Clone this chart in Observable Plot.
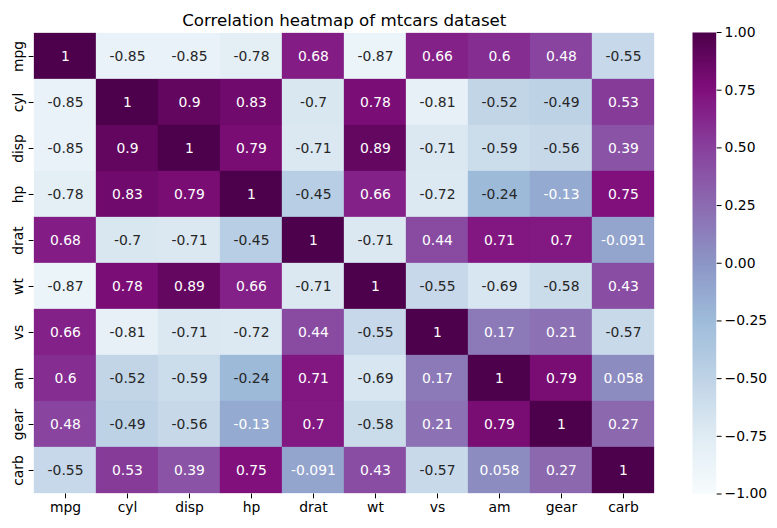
<!DOCTYPE html>
<html><head><meta charset="utf-8">
<script src="https://cdn.jsdelivr.net/npm/d3@7"></script>
<script src="https://cdn.jsdelivr.net/npm/@observablehq/plot@0.6"></script>
<style>
body{margin:0;background:#fff;font-family:"DejaVu Sans",sans-serif}
#wrap{position:relative;width:777px;height:528px}
#wrap svg{position:absolute;top:0;overflow:visible}
</style>
</head><body><div id="wrap"></div>
<script>
const title = "Correlation heatmap of mtcars dataset";
const variables = ["mpg","cyl","disp","hp","drat","wt","vs","am","gear","carb"];
const mpg  = [1, -0.85, -0.85, -0.78, 0.68, -0.87, 0.66, 0.6, 0.48, -0.55];
const cyl  = [-0.85, 1, 0.9, 0.83, -0.7, 0.78, -0.81, -0.52, -0.49, 0.53];
const disp = [-0.85, 0.9, 1, 0.79, -0.71, 0.89, -0.71, -0.59, -0.56, 0.39];
const hp   = [-0.78, 0.83, 0.79, 1, -0.45, 0.66, -0.72, -0.24, -0.13, 0.75];
const drat = [0.68, -0.7, -0.71, -0.45, 1, -0.71, 0.44, 0.71, 0.7, -0.091];
const wt   = [-0.87, 0.78, 0.89, 0.66, -0.71, 1, -0.55, -0.69, -0.58, 0.43];
const vs   = [0.66, -0.81, -0.71, -0.72, 0.44, -0.55, 1, 0.17, 0.21, -0.57];
const am   = [0.6, -0.52, -0.59, -0.24, 0.71, -0.69, 0.17, 1, 0.79, 0.058];
const gear = [0.48, -0.49, -0.56, -0.13, 0.7, -0.58, 0.21, 0.79, 1, 0.27];
const carb = [-0.55, 0.53, 0.39, 0.75, -0.091, 0.43, -0.57, 0.058, 0.27, 1];
const rows = [mpg, cyl, disp, hp, drat, wt, vs, am, gear, carb];
const colorTicks = [-1, -0.75, -0.5, -0.25, 0, 0.25, 0.5, 0.75, 1];
const bupu = ["#f7fcfd","#e0ecf4","#bfd3e6","#9ebcda","#8c96c6","#8c6bb1","#88419d","#810f7c","#4d004b"];

const cells = [];
rows.forEach((r, i) => r.forEach((v, j) => cells.push({row: variables[i], col: variables[j], value: v})));

const colorOpts = {type: "linear", domain: colorTicks, range: bupu, interpolate: "rgb"};
const cs = Plot.scale({color: colorOpts});
function lum(c) {
  const k = d3.rgb(c);
  const f = x => { x /= 255; return x <= 0.03928 ? x / 12.92 : Math.pow((x + 0.055) / 1.055, 2.4); };
  return 0.2126 * f(k.r) + 0.7152 * f(k.g) + 0.0722 * f(k.b);
}
const txtColor = d => lum(cs.apply(d.value)) > 0.408 ? "#262626" : "white";

const FS = 13.9;
const font = {fontFamily: "DejaVu Sans", fontSize: FS + "px", color: "black", background: "transparent"};

const main = Plot.plot({
  width: 777, height: 528,
  marginLeft: 33.5, marginRight: 123, marginTop: 32, marginBottom: 34.5,
  style: font,
  x: {domain: variables, padding: 0, label: null},
  y: {domain: variables, padding: 0, label: null},
  color: colorOpts,
  marks: [
    Plot.cell(cells, {x: "col", y: "row", fill: "value", inset: 0, stroke: "value", strokeWidth: 0.3}),
    Plot.text(cells, {x: "col", y: "row", text: d => String(d.value), fill: txtColor, fontSize: FS}),
    Plot.axisX({tickSize: 4.86, tickPadding: 3.5, fontSize: FS, label: null}),
    Plot.axisY({tickSize: 4.86, tickPadding: 6.5, tickRotate: -90, fontSize: FS, label: null}),
    Plot.text([title], {frameAnchor: "top", lineAnchor: "bottom", dy: -7, fontSize: 16.67, fill: "black"})
  ]
});

const bar = Plot.plot({
  width: 85, height: 528,
  marginLeft: 0, marginRight: 61.3, marginTop: 32, marginBottom: 34.5,
  style: font,
  x: {domain: [0, 1], axis: null},
  y: {domain: [-1, 1], label: null},
  color: colorOpts,
  marks: [
    Plot.raster({fill: (x, y) => y, x1: 0, x2: 1, y1: -1, y2: 1, width: 1, height: 400, imageRendering: "auto"}),
    Plot.axisY({anchor: "right", ticks: colorTicks, tickFormat: d3.format(".2f"), tickSize: 4.86, tickPadding: 3.5, fontSize: FS, label: null})
  ]
});

const wrap = document.getElementById("wrap");
main.style.left = "0px";
bar.style.left = "692px";
wrap.appendChild(main);
wrap.appendChild(bar);
</script>
</body></html>
